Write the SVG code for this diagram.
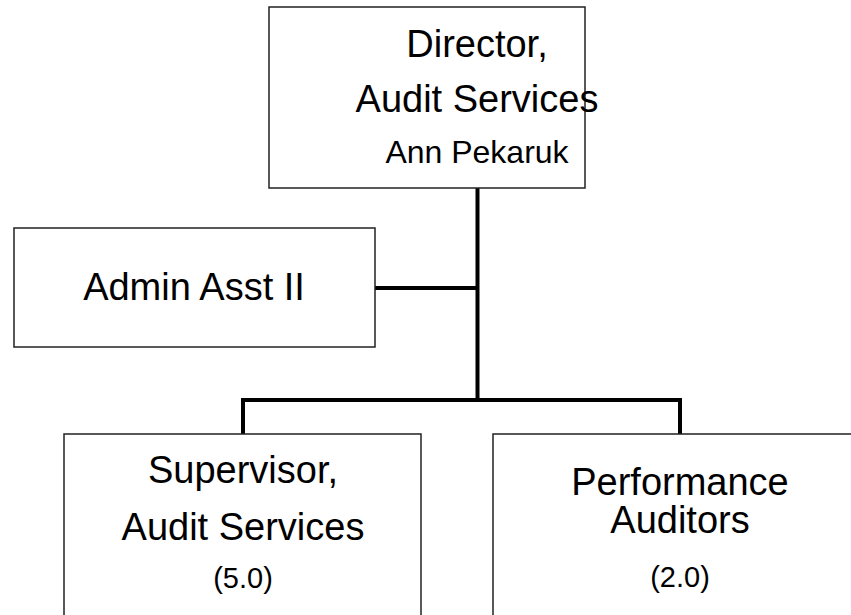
<svg xmlns="http://www.w3.org/2000/svg" width="851" height="615" viewBox="0 0 851 615">
<style>
.box{fill:#fff;stroke:#222;stroke-width:1.5}
.t{font-family:"Liberation Sans",Arial,sans-serif;fill:#000;text-anchor:middle}
.conn{fill:none;stroke:#000;stroke-width:4;stroke-linejoin:miter}
</style>
<rect width="851" height="615" fill="#fff"/>
<g id="connectors">
<path class="conn" d="M477.5 188 V400"/>
<path class="conn" d="M375 288 H477.5"/>
<path class="conn" d="M243 434 V400 H680 V434"/>
</g>
<g id="director">
<rect class="box" x="269" y="7" width="316" height="181"/>
<text class="t" x="477" y="57" font-size="38">Director,</text>
<text class="t" x="477" y="112" font-size="38">Audit Services</text>
<text class="t" x="477" y="163" font-size="32">Ann Pekaruk</text>
</g>
<g id="admin">
<rect class="box" x="14" y="228" width="361" height="119"/>
<text class="t" x="194" y="300" font-size="38">Admin Asst II</text>
</g>
<g id="supervisor">
<rect class="box" x="64" y="434" width="357" height="200"/>
<text class="t" x="243" y="483" font-size="38">Supervisor,</text>
<text class="t" x="243" y="540" font-size="38">Audit Services</text>
<text class="t" x="243" y="588" font-size="29">(5.0)</text>
</g>
<g id="performance">
<rect class="box" x="493" y="434" width="380" height="200"/>
<text class="t" x="680" y="495" font-size="38">Performance</text>
<text class="t" x="680" y="533" font-size="38">Auditors</text>
<text class="t" x="680" y="587" font-size="29">(2.0)</text>
</g>
</svg>
